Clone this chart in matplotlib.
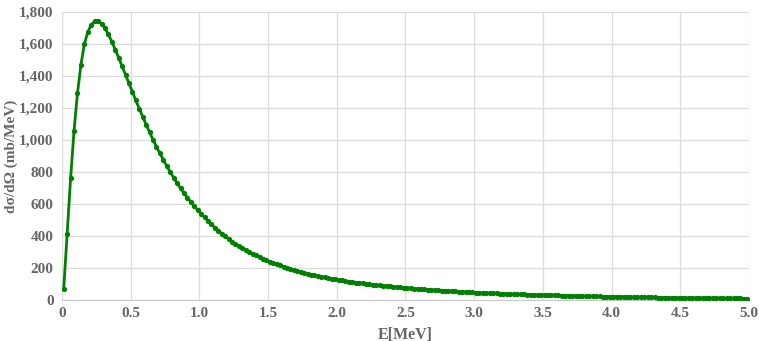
import matplotlib
matplotlib.use("Agg")
import matplotlib.pyplot as plt
from matplotlib.ticker import FuncFormatter

# energy grid (MeV), one point every 0.025 MeV
energy = [round(0.0125 + 0.025 * k, 4) for k in range(200)]

# differential cross section (mb/MeV)
xsec = [
    70, 410, 760, 1058, 1292, 1470, 1598, 1675, 1720, 1741,
    1742, 1727, 1698, 1660, 1615, 1565, 1514, 1461, 1408, 1354,
    1300, 1247, 1195, 1145, 1096, 1048, 1002, 958, 916, 876,
    837, 800, 765, 731, 698, 667, 640, 613, 587, 563,
    539, 516, 494, 473, 453, 434, 415, 398, 381, 365,
    351.0, 337.9, 325.2, 313.0, 301.3, 290.0, 279.1, 268.6, 258.5, 248.8,
    240.1, 231.7, 223.6, 215.8, 208.3, 201.0, 194.0, 187.2, 180.7, 174.4,
    169.2, 164.2, 159.3, 154.6, 150.0, 145.5, 141.2, 137.0, 132.9, 129.0,
    125.5, 122.1, 118.8, 115.6, 112.5, 109.4, 106.4, 103.5, 100.7, 98.0,
    95.7, 93.4, 91.2, 89.0, 86.9, 84.8, 82.8, 80.8, 78.9, 77.0,
    75.1, 73.2, 71.4, 69.7, 67.9, 66.3, 64.6, 63.0, 61.5, 60.0,
    58.6, 57.2, 55.9, 54.6, 53.4, 52.1, 50.9, 49.8, 48.6, 47.5,
    46.5, 45.5, 44.5, 43.6, 42.6, 41.7, 40.8, 40.0, 39.1, 38.3,
    37.5, 36.8, 36.0, 35.3, 34.6, 33.9, 33.2, 32.6, 31.9, 31.3,
    30.7, 30.0, 29.4, 28.8, 28.3, 27.7, 27.1, 26.6, 26.1, 25.5,
    25.0, 24.5, 24.0, 23.5, 23.1, 22.6, 22.1, 21.7, 21.3, 20.8,
    20.4, 20.0, 19.6, 19.2, 18.8, 18.4, 18.1, 17.7, 17.3, 17.0,
    16.6, 16.3, 16.0, 15.6, 15.3, 15.0, 14.7, 14.4, 14.1, 13.8,
    13.6, 13.3, 13.0, 12.8, 12.5, 12.3, 12.0, 11.8, 11.5, 11.3,
    11.1, 10.8, 10.6, 10.4, 10.2, 10.0, 9.8, 9.6, 9.4, 9.2,
]

x_ticks = [0, 0.5, 1.0, 1.5, 2.0, 2.5, 3.0, 3.5, 4.0, 4.5, 5.0]
x_tick_labels = ["0", "0.5", "1.0", "1.5", "2.0", "2.5", "3.0", "3.5", "4.0", "4.5", "5.0"]
y_ticks = [0, 200, 400, 600, 800, 1000, 1200, 1400, 1600, 1800]

plt.rcParams["font.family"] = ["Liberation Serif", "DejaVu Serif"]

fig = plt.figure(figsize=(7.59, 3.41), dpi=100)
ax = fig.add_axes([0.0817, 0.1202, 0.9051, 0.8446])

ax.plot(energy, xsec, color="#008000", linewidth=2.0, marker="o",
        markersize=3.8, markeredgewidth=0, zorder=3)

ax.set_xlim(0, 5)
ax.set_ylim(0, 1800)
ax.set_xticks(x_ticks)
ax.set_xticklabels(x_tick_labels)
ax.set_yticks(y_ticks)
ax.yaxis.set_major_formatter(FuncFormatter(lambda v, p: f"{int(v):,}"))

ax.grid(True, color="#dcdcdc", linewidth=0.9)
ax.set_axisbelow(True)
for side in ["top", "right", "left"]:
    ax.spines[side].set_visible(False)
ax.spines["bottom"].set_color("#c8c8c8")
ax.tick_params(length=0, labelsize=11, labelcolor="#666666")
ax.tick_params(axis="x", pad=5)
ax.tick_params(axis="y", pad=6)
for lbl in ax.get_xticklabels() + ax.get_yticklabels():
    lbl.set_fontweight("bold")

ax.set_xlabel("E[MeV]", fontsize=11.5, fontweight="bold", color="#666666")
ax.xaxis.set_label_coords(0.5, -0.092)
ax.set_ylabel("dσ/dΩ (mb/MeV)", fontsize=11, fontweight="bold", color="#666666")
ax.yaxis.set_label_coords(-0.064, 0.5)

fig.savefig("out.png", dpi=100)
plt.close(fig)
